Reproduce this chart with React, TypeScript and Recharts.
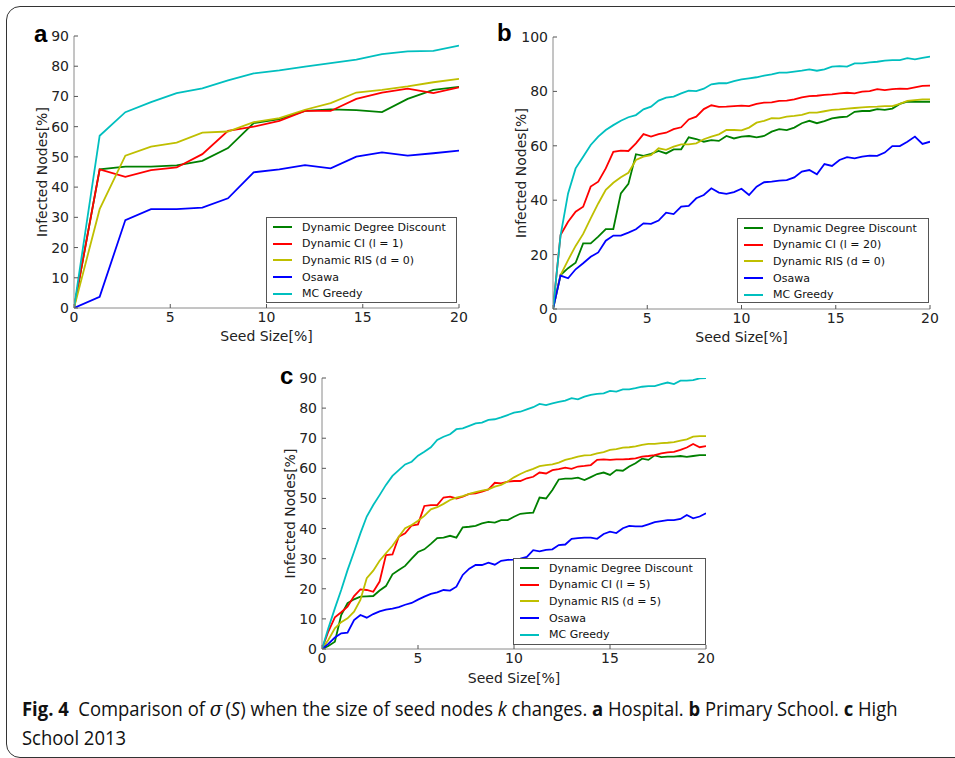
import React from 'react';
import { LineChart, Line, XAxis, YAxis, Legend } from 'recharts';

// ---------- shared ----------
const SERIES_KEYS = ['ddd', 'ci', 'ris', 'osawa', 'mc'];
const SERIES_COLORS = ['#008000', '#ff0000', '#bfbf00', '#0000ff', '#00bfbf'];
const X_TICKS = [0, 5, 10, 15, 20];

// ---------- panel a : Hospital ----------
const aNames = ['Dynamic Degree Discount', 'Dynamic CI (l = 1)', 'Dynamic RIS (d = 0)', 'Osawa', 'MC Greedy'];
const aSeed = [0, 1.333, 2.667, 4, 5.333, 6.667, 8, 9.333, 10.667, 12, 13.333, 14.667, 16, 17.333, 18.667, 20];
const aDDD = [0, 45.9, 46.8, 46.8, 47.2, 48.7, 52.9, 61.2, 62.5, 65.2, 65.7, 65.5, 64.8, 69.2, 72.2, 73.2];
const aCI = [0, 45.9, 43.4, 45.6, 46.5, 50.9, 58.6, 60.0, 61.9, 65.2, 65.2, 69.2, 71.3, 72.6, 71.1, 73.0];
const aRIS = [0, 32.7, 50.4, 53.4, 54.7, 58.0, 58.4, 61.5, 62.8, 65.6, 67.8, 71.3, 72.2, 73.3, 74.7, 75.8];
const aOsawa = [0, 3.7, 29.1, 32.7, 32.7, 33.2, 36.3, 44.9, 45.9, 47.3, 46.2, 50.1, 51.5, 50.4, 51.2, 52.1];
const aMC = [0, 57.0, 64.8, 68.1, 71.1, 72.7, 75.3, 77.6, 78.6, 79.9, 81.0, 82.2, 84.0, 84.9, 85.1, 86.8];
const aYTicks = [0, 10, 20, 30, 40, 50, 60, 70, 80, 90];

// ---------- panel b : Primary School ----------
const bNames = ['Dynamic Degree Discount', 'Dynamic CI (l = 20)', 'Dynamic RIS (d = 0)', 'Osawa', 'MC Greedy'];
const bSeed = [0, 0.4, 0.8, 1.2, 1.6, 2, 2.4, 2.8, 3.2, 3.6, 4, 4.4, 4.8, 5.2, 5.6, 6, 6.4, 6.8, 7.2, 7.6, 8, 8.4, 8.8, 9.2, 9.6, 10, 10.4, 10.8, 11.2, 11.6, 12, 12.4, 12.8, 13.2, 13.6, 14, 14.4, 14.8, 15.2, 15.6, 16, 16.4, 16.8, 17.2, 17.6, 18, 18.4, 18.8, 19.2, 19.6, 20];
const bDDD = [0, 12.5, 15.0, 17.0, 24.1, 24.1, 26.6, 29.4, 29.4, 42.5, 46.0, 56.9, 56.3, 57.0, 58.1, 57.2, 58.7, 58.7, 63.1, 62.5, 61.5, 62.1, 61.8, 63.6, 62.7, 63.4, 63.6, 63.1, 63.6, 65.2, 66.1, 65.8, 66.7, 68.3, 69.2, 68.3, 69.1, 70.1, 70.5, 70.7, 72.5, 72.8, 72.8, 73.5, 73.2, 73.7, 75.4, 76.2, 76.2, 76.2, 76.2];
const bCI = [0, 27.2, 32.1, 35.8, 37.6, 45.0, 46.8, 51.7, 57.8, 58.2, 58.1, 60.9, 64.3, 63.4, 64.3, 64.8, 66.1, 66.8, 69.7, 70.7, 73.5, 74.9, 74.3, 74.4, 74.6, 74.8, 74.6, 75.4, 75.9, 76.0, 76.5, 76.6, 77.1, 77.8, 78.3, 78.4, 78.7, 78.9, 79.3, 79.5, 79.3, 79.9, 80.1, 80.8, 80.5, 80.8, 81.0, 80.9, 81.5, 82.0, 82.1];
const bRIS = [0, 12.5, 18.0, 23.2, 27.6, 33.3, 38.8, 43.8, 46.4, 48.4, 50.1, 54.8, 56.0, 56.6, 59.1, 58.5, 59.7, 60.5, 60.5, 60.9, 62.4, 63.4, 64.2, 65.8, 65.8, 65.7, 66.7, 68.5, 69.2, 70.2, 70.1, 70.7, 71.0, 71.4, 72.2, 72.2, 72.7, 73.2, 73.4, 73.7, 73.9, 74.1, 74.3, 74.4, 74.6, 74.6, 75.4, 76.5, 76.8, 77.1, 77.1];
const bOsawa = [0, 12.3, 11.3, 14.6, 16.8, 19.2, 20.8, 25.1, 27.0, 27.0, 28.1, 29.3, 31.5, 31.3, 32.5, 35.4, 34.9, 37.6, 37.9, 40.7, 41.9, 44.4, 42.8, 42.3, 43.0, 44.2, 41.9, 45.0, 46.6, 46.8, 47.2, 47.4, 48.4, 50.5, 51.1, 49.5, 53.3, 52.6, 54.8, 55.8, 55.4, 56.0, 56.4, 56.3, 57.5, 59.9, 59.9, 61.5, 63.4, 60.7, 61.5];
const bMC = [0, 27.0, 42.5, 51.7, 56.0, 60.3, 63.4, 65.8, 67.6, 69.2, 70.5, 71.3, 73.4, 74.4, 76.6, 77.7, 78.1, 79.3, 80.3, 80.1, 81.0, 82.6, 83.0, 83.0, 83.8, 84.4, 84.8, 85.2, 85.8, 86.3, 86.9, 86.9, 87.3, 87.6, 88.1, 87.6, 88.1, 89.1, 89.3, 89.1, 90.3, 90.3, 90.7, 90.9, 91.3, 91.5, 91.5, 92.2, 91.8, 92.3, 92.8];
const bYTicks = [0, 20, 40, 60, 80, 100];

// ---------- panel c : High School 2013 ----------
const cNames = ['Dynamic Degree Discount', 'Dynamic CI (l = 5)', 'Dynamic RIS (d = 5)', 'Osawa', 'MC Greedy'];
const cSeed = [0, 0.33, 0.67, 1, 1.33, 1.67, 2, 2.33, 2.67, 3, 3.33, 3.67, 4, 4.33, 4.67, 5, 5.33, 5.67, 6, 6.33, 6.67, 7, 7.33, 7.67, 8, 8.33, 8.67, 9, 9.33, 9.67, 10, 10.33, 10.67, 11, 11.33, 11.67, 12, 12.33, 12.67, 13, 13.33, 13.67, 14, 14.33, 14.67, 15, 15.33, 15.67, 16, 16.33, 16.67, 17, 17.33, 17.67, 18, 18.33, 18.67, 19, 19.33, 19.67, 20];
const cDDD = [0, 1.0, 2.4, 11.3, 15.2, 16.5, 17.4, 17.5, 17.6, 19.4, 20.9, 24.8, 26.2, 27.6, 30.0, 32.2, 33.1, 34.9, 36.8, 37.0, 37.6, 37.0, 40.4, 40.6, 40.9, 41.7, 42.2, 42.0, 42.8, 42.8, 43.9, 44.9, 45.1, 45.3, 50.3, 50.0, 52.8, 56.3, 56.6, 56.6, 56.9, 56.1, 57.1, 58.1, 58.6, 57.8, 59.4, 59.2, 60.6, 61.7, 63.2, 62.8, 64.3, 63.7, 63.9, 63.9, 64.1, 63.8, 64.1, 64.4, 64.4];
const cCI = [0, 5.8, 10.5, 12.2, 14.1, 17.6, 19.8, 19.6, 19.0, 22.4, 31.2, 31.4, 37.3, 38.4, 41.0, 41.4, 47.5, 47.8, 47.8, 50.3, 50.6, 50.0, 50.6, 51.5, 51.7, 52.3, 53.0, 55.2, 55.0, 55.6, 55.8, 55.8, 56.7, 57.2, 58.6, 58.3, 59.4, 59.7, 60.2, 59.8, 60.6, 60.8, 61.1, 62.8, 63.0, 62.8, 63.0, 63.0, 63.1, 63.3, 63.9, 64.1, 64.4, 65.0, 65.3, 65.5, 66.1, 66.9, 68.1, 67.0, 67.4];
const cRIS = [0, 3.0, 6.9, 8.9, 10.2, 12.4, 16.3, 23.5, 26.0, 29.3, 31.8, 34.3, 37.3, 40.1, 41.2, 42.6, 44.2, 46.4, 47.1, 48.2, 49.5, 50.3, 50.8, 51.5, 52.1, 52.6, 53.0, 53.9, 54.5, 55.6, 57.0, 58.1, 59.1, 59.8, 60.7, 61.1, 61.3, 61.9, 62.8, 63.3, 63.9, 64.3, 64.4, 65.0, 65.4, 66.1, 66.4, 66.9, 67.0, 67.3, 67.8, 68.1, 68.1, 68.4, 68.5, 68.7, 69.2, 69.6, 70.5, 70.7, 70.7];
const cOsawa = [0, 1.7, 3.8, 5.2, 5.4, 9.6, 11.3, 10.4, 11.6, 12.5, 13.1, 13.4, 13.9, 14.7, 15.3, 16.4, 17.4, 18.3, 18.8, 19.6, 19.4, 20.7, 24.6, 26.7, 27.9, 27.9, 28.7, 28.0, 29.3, 29.6, 29.7, 30.0, 30.6, 32.8, 32.4, 32.9, 33.1, 34.5, 34.7, 36.6, 36.8, 37.0, 37.0, 36.6, 38.2, 39.0, 38.5, 40.1, 40.9, 40.7, 40.7, 41.4, 42.1, 42.5, 42.8, 42.8, 43.2, 44.5, 43.4, 44.0, 45.1];
const cMC = [0, 6.9, 13.5, 19.6, 26.2, 32.3, 38.4, 44.0, 47.8, 51.1, 54.5, 57.5, 59.4, 61.3, 62.2, 64.2, 65.5, 67.0, 69.4, 70.5, 71.3, 73.0, 73.3, 74.1, 74.9, 75.2, 76.1, 76.3, 76.9, 77.7, 78.5, 78.8, 79.6, 80.3, 81.4, 81.0, 81.6, 82.1, 82.5, 83.3, 82.9, 83.8, 84.4, 84.7, 84.9, 85.7, 85.5, 86.2, 86.2, 86.6, 87.1, 87.3, 87.3, 88.0, 88.5, 88.0, 89.1, 89.1, 89.3, 89.9, 90.0];
const cYTicks = [0, 10, 20, 30, 40, 50, 60, 70, 80, 90];

// ---------- rendering ----------
const PAGE_W = 955;
const PAGE_H = 758;
const FONT = "'DejaVu Sans', sans-serif";
const AXIS_GRAY = '#8a8a8a';
const Y_AXIS_W = 64;

type Rect = { left: number; top: number; right: number; bottom: number };

function makeLegend(box: Rect) {
  return (props: any) => {
    const raw = ((props && props.payload) || []).slice();
    raw.sort(
      (p: any, q: any) => SERIES_KEYS.indexOf(String(p.dataKey)) - SERIES_KEYS.indexOf(String(q.dataKey))
    );
    return (
      <div
        style={{
          position: 'relative',
          width: box.right - box.left,
          height: box.bottom - box.top,
          boxSizing: 'border-box',
          border: '1px solid #555',
          background: '#fff',
          paddingTop: 1,
          fontFamily: FONT,
          fontSize: 11,
          color: '#111',
        }}
      >
        {raw.map((p: any, i: number) => (
          <div key={i} style={{ display: 'flex', alignItems: 'center', height: 16.6, whiteSpace: 'nowrap' }}>
            <span
              style={{
                display: 'inline-block',
                marginLeft: 6,
                width: 19,
                height: 0,
                borderTop: `2px solid ${p.color}`,
                marginRight: 10,
              }}
            />
            <span>{p.value}</span>
          </div>
        ))}
      </div>
    );
  };
}

type PanelProps = {
  seed: number[];
  values: number[][];
  names: string[];
  yMax: number;
  yTicks: number[];
  plot: Rect;
  xAxisH: number;
  legend: Rect;
};

function Panel({ seed, values, names, yMax, yTicks, plot, xAxisH, legend }: PanelProps) {
  const data = seed.map((s, i) => {
    const row: any = { seed: s };
    SERIES_KEYS.forEach((k, j) => {
      row[k] = values[j][i];
    });
    return row;
  });
  const tickStyle = { fill: '#222', fontSize: 14, fontFamily: FONT };
  const labelStyle = { fontSize: 14, fontFamily: FONT, fill: '#222' };
  return (
    <div style={{ position: 'absolute', left: 0, top: 0 }}>
      <LineChart
        width={PAGE_W}
        height={PAGE_H}
        data={data}
        margin={{
          top: plot.top,
          left: plot.left - Y_AXIS_W,
          right: PAGE_W - plot.right,
          bottom: PAGE_H - plot.bottom - xAxisH,
        }}
      >
        <XAxis
          xAxisId="b"
          dataKey="seed"
          type="number"
          domain={[0, 20]}
          ticks={X_TICKS}
          allowDataOverflow
          height={xAxisH}
          tickSize={-4}
          tickMargin={8}
          tick={tickStyle}
          axisLine={{ stroke: AXIS_GRAY }}
          tickLine={{ stroke: '#555' }}
          label={{ value: 'Seed Size[%]', position: 'center', ...labelStyle }}
        />
        <XAxis
          xAxisId="t"
          orientation="top"
          type="number"
          domain={[0, 20]}
          ticks={X_TICKS}
          allowDataOverflow
          height={0}
          tickSize={-4}
          tickFormatter={() => ''}
          axisLine={{ stroke: AXIS_GRAY }}
          tickLine={{ stroke: '#555' }}
        />
        <YAxis
          yAxisId="l"
          type="number"
          domain={[0, yMax]}
          ticks={yTicks}
          allowDataOverflow
          width={Y_AXIS_W}
          tickSize={-4}
          tickMargin={9}
          tick={tickStyle}
          axisLine={{ stroke: AXIS_GRAY }}
          tickLine={{ stroke: '#555' }}
          label={{ value: 'Infected Nodes[%]', angle: -90, position: 'center', ...labelStyle }}
        />
        <YAxis
          yAxisId="r"
          orientation="right"
          type="number"
          domain={[0, yMax]}
          ticks={yTicks}
          allowDataOverflow
          width={0}
          tickSize={-4}
          tickFormatter={() => ''}
          axisLine={{ stroke: AXIS_GRAY }}
          tickLine={{ stroke: '#555' }}
        />
        {SERIES_KEYS.map((k, j) => (
          <Line
            key={k}
            xAxisId="b"
            yAxisId="l"
            type="linear"
            dataKey={k}
            name={names[j]}
            stroke={SERIES_COLORS[j]}
            strokeWidth={1.8}
            dot={false}
            activeDot={false}
            isAnimationActive={false}
          />
        ))}
        <Legend
          layout="vertical"
          align="center"
          verticalAlign="middle"
          content={makeLegend(legend)}
          wrapperStyle={{
            left: legend.left,
            top: legend.top,
            width: legend.right - legend.left,
            height: legend.bottom - legend.top,
            right: 'auto',
            bottom: 'auto',
            margin: 0,
          }}
        />
      </LineChart>
    </div>
  );
}

const CAPTION_FONT = "'Open Sans', 'Noto Sans', sans-serif";

export default function App() {
  return (
    <div style={{ position: 'absolute', left: 0, top: 0, width: PAGE_W, height: PAGE_H, overflow: 'hidden', background: '#fff' }}>
      <div
        style={{
          position: 'absolute',
          left: 6,
          top: 6,
          width: 1000,
          height: 750,
          border: '1px solid #333',
          borderRadius: 14,
        }}
      />
      <Panel
        seed={aSeed}
        values={[aDDD, aCI, aRIS, aOsawa, aMC]}
        names={aNames}
        yMax={90}
        yTicks={aYTicks}
        plot={{ left: 74, top: 36, right: 459, bottom: 308 }}
        xAxisH={56}
        legend={{ left: 266, top: 217, right: 457, bottom: 303 }}
      />
      <Panel
        seed={bSeed}
        values={[bDDD, bCI, bRIS, bOsawa, bMC]}
        names={bNames}
        yMax={100}
        yTicks={bYTicks}
        plot={{ left: 553, top: 37, right: 930, bottom: 309 }}
        xAxisH={56}
        legend={{ left: 737, top: 218, right: 929, bottom: 303 }}
      />
      <Panel
        seed={cSeed}
        values={[cDDD, cCI, cRIS, cOsawa, cMC]}
        names={cNames}
        yMax={90}
        yTicks={cYTicks}
        plot={{ left: 322, top: 378, right: 706, bottom: 649 }}
        xAxisH={58}
        legend={{ left: 513, top: 558, right: 706, bottom: 645 }}
      />
      <svg
        width={PAGE_W}
        height={420}
        style={{ position: 'absolute', left: 0, top: 0, pointerEvents: 'none' }}
      >
        <text x={34} y={42} fontFamily="'Liberation Sans', Arial, sans-serif" fontWeight="bold" fontSize={24} fill="#000">a</text>
        <text x={497} y={41} fontFamily="'Liberation Sans', Arial, sans-serif" fontWeight="bold" fontSize={24} fill="#000">b</text>
        <text x={280} y={384} fontFamily="'Liberation Sans', Arial, sans-serif" fontWeight="bold" fontSize={24} fill="#000">c</text>
      </svg>
      <div
        style={{
          position: 'absolute',
          left: 22,
          top: 695,
          width: 960,
          fontFamily: CAPTION_FONT,
          fontSize: 19.5,
          lineHeight: '28px',
          color: '#111',
          whiteSpace: 'nowrap',
          transform: 'scaleX(0.945)',
          transformOrigin: '0 0',
        }}
      >
        <div>
          <b>Fig. 4</b>
          {'\u00a0\u00a0Comparison of '}
          <i style={{ fontFamily: "'DejaVu Serif', serif" }}>σ</i>
          {'\u2009('}
          <i>S</i>
          {') when the size of seed nodes '}
          <i>k</i>
          {' changes. '}
          <b>a</b>
          {' Hospital. '}
          <b>b</b>
          {' Primary School. '}
          <b>c</b>
          {' High'}
        </div>
        <div>School 2013</div>
      </div>
    </div>
  );
}
